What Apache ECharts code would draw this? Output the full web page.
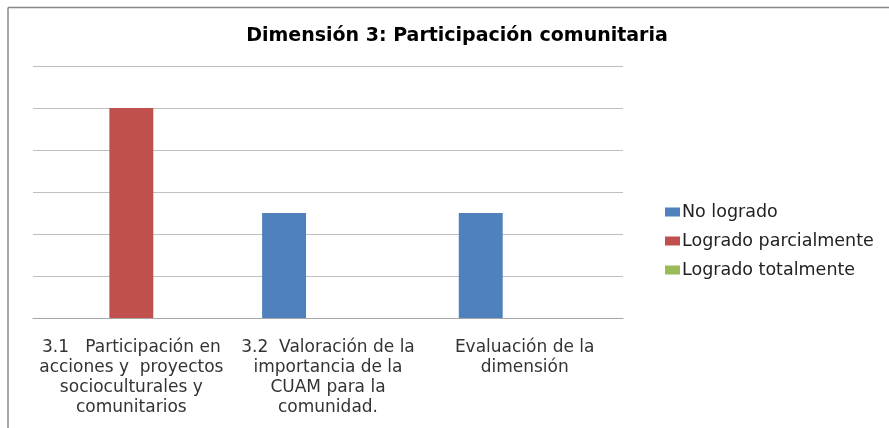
<!DOCTYPE html>
<html>
<head>
<meta charset="utf-8">
<script src="https://cdn.jsdelivr.net/npm/echarts@6/dist/echarts.min.js"></script>
<style>
  html, body { margin: 0; padding: 0; background: #fff; }
  #chart { width: 889px; height: 428px; }
</style>
</head>
<body>
<div id="chart"></div>
<script>
const categories = [
  '3.1   Participación en\nacciones y  proyectos\nsocioculturales y\ncomunitarios',
  '3.2  Valoración de la\nimportancia de la\nCUAM para la\ncomunidad.',
  'Evaluación de la\ndimensión'
];
const seriesNames = ['No logrado', 'Logrado parcialmente', 'Logrado totalmente'];
const noLogrado = [null, 0.5, 0.5];
const logradoParcial = [1, null, null];
const logradoTotal = [null, null, null];
const colors = ['#4F81BD', '#C0504D', '#9BBB59'];

const chart = echarts.init(document.getElementById('chart'));
const font = 'DejaVu Sans';

chart.setOption({
  animation: false,
  color: colors,
  title: {
    text: 'Dimensión 3: Participación comunitaria',
    left: 452,
    top: 22,
    textAlign: 'center',
    textStyle: { fontFamily: font, fontSize: 19, fontWeight: 'bold', color: '#000' }
  },
  legend: {
    orient: 'vertical',
    left: 660,
    top: 198,
    itemWidth: 15,
    itemHeight: 9,
    itemGap: 11,
    icon: 'rect',
    textStyle: { fontFamily: font, fontSize: 17.5, color: '#222', padding: [0, 0, 0, -3] },
    data: seriesNames
  },
  grid: { left: 33, right: 266, top: 66, bottom: 110 },
  xAxis: {
    type: 'category',
    data: categories,
    axisLine: { lineStyle: { color: '#a6a6a6' } },
    axisTick: { length: 5, lineStyle: { color: '#a6a6a6' } },
    axisLabel: {
      interval: 0,
      margin: 20,
      fontFamily: font,
      fontSize: 17,
      lineHeight: 20,
      color: '#333',
      align: 'center'
    }
  },
  yAxis: {
    type: 'value',
    min: 0,
    max: 1.2,
    interval: 0.2,
    axisLabel: { show: false },
    axisLine: { show: false },
    axisTick: { show: false },
    splitLine: { lineStyle: { color: '#bfbfbf' } }
  },
  series: [
    { name: seriesNames[0], type: 'bar', data: noLogrado, barGap: '0%', barCategoryGap: '33%' },
    { name: seriesNames[1], type: 'bar', data: logradoParcial },
    { name: seriesNames[2], type: 'bar', data: logradoTotal }
  ],
  graphic: [
    { type: 'line', shape: { x1: 8, y1: 7.5, x2: 889, y2: 7.5 }, style: { stroke: '#888', lineWidth: 1.5 } },
    { type: 'line', shape: { x1: 8, y1: 7.5, x2: 8, y2: 428 }, style: { stroke: '#888', lineWidth: 1.5 } }
  ]
});
</script>
</body>
</html>
